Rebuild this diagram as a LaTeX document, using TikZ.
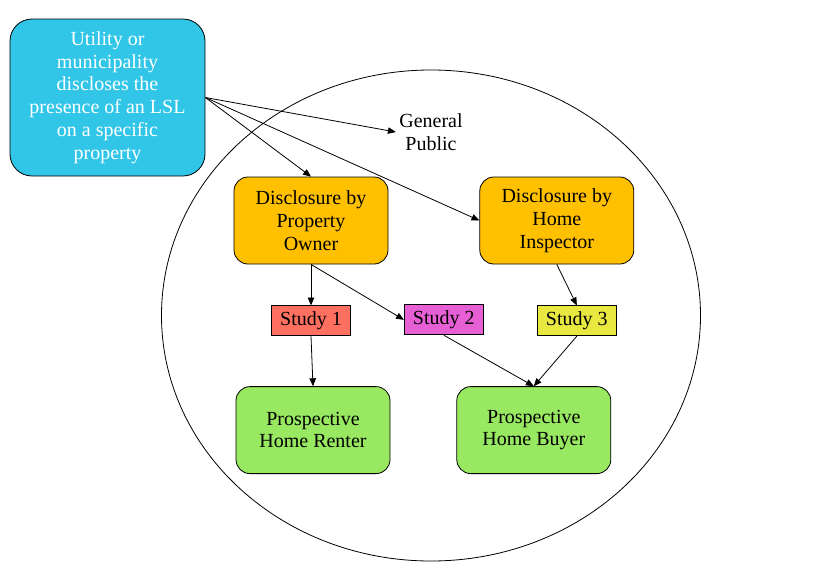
\documentclass[tikz,border=0pt]{standalone}
\usepackage{fontspec}
\setmainfont{Liberation Serif}
\usepackage{tikz}
\usetikzlibrary{calc}
\usetikzlibrary{positioning}
\usetikzlibrary{bayesnet}
\usetikzlibrary{arrows}
\usepackage{xcolor}
\definecolor{utilblue}{HTML}{31C6E8}
\definecolor{discorange}{HTML}{FFC000}
\definecolor{prospgreen}{HTML}{98E862}
\definecolor{studyred}{HTML}{FF7060}
\definecolor{studypink}{HTML}{E65FD5}
\definecolor{studyyellow}{HTML}{E8E840}

\begin{document}
\begin{tikzpicture}[
    font=\fontsize{20}{22.7}\selectfont,
    rbox/.style={rectangle, rounded corners=14pt, draw, line width=0.8pt, align=center,
      minimum width=154pt, minimum height=87pt, inner sep=0pt},
    sbox/.style={rectangle, draw, line width=0.8pt, minimum width=79pt, minimum height=30pt, inner sep=0pt},
    conn/.style={line width=0.8pt}
  ]

    \useasboundingbox (0,0) rectangle (831pt,-587pt);

    % Population
    \draw[line width=0.8pt] (431pt,-315.5pt) ellipse [x radius=269.5pt, y radius=245.5pt];

    % Define nodes
    \node[rbox, fill=utilblue, text=white, rounded corners=22pt, minimum width=195pt, minimum height=157pt]
      at (107.5pt,-97.5pt) (util) {Utility or\\municipality\\discloses the\\presence of an LSL\\on a specific\\property};
    \node[align=center] at (431pt,-132pt) (public) {General\\Public};
    \node[rbox, fill=discorange] at (311pt,-220.5pt) (owner) {Disclosure by\\Property\\Owner};
    \node[rbox, fill=discorange, right=91pt of owner] (inspector) {Disclosure by\\Home\\Inspector};
    \node[sbox, fill=studyred, below=41pt of owner] (study1) {Study 1};
    \node[sbox, fill=studypink, right=53pt of study1, yshift=1pt] (study2) {Study 2};
    \node[sbox, fill=studyyellow, below=41pt of inspector, xshift=20pt] (study3) {Study 3};
    \node[rbox, fill=prospgreen, below=50pt of study1, xshift=2pt] (renter) {Prospective\\Home Renter};
    \node[rbox, fill=prospgreen, right=66pt of renter] (buyer) {Prospective\\Home Buyer};

    % Connect the nodes
    \edge[conn] {util.east} {public.west, owner.north, inspector.west};
    \edge[conn] {owner.south} {study1.north, study2.west};
    \edge[conn] {inspector.south} {study3.north};
    \edge[conn] {study1.south} {renter.north};
    \edge[conn] {study2.south, study3.south} {buyer.north};

  \end{tikzpicture}
\end{document}
